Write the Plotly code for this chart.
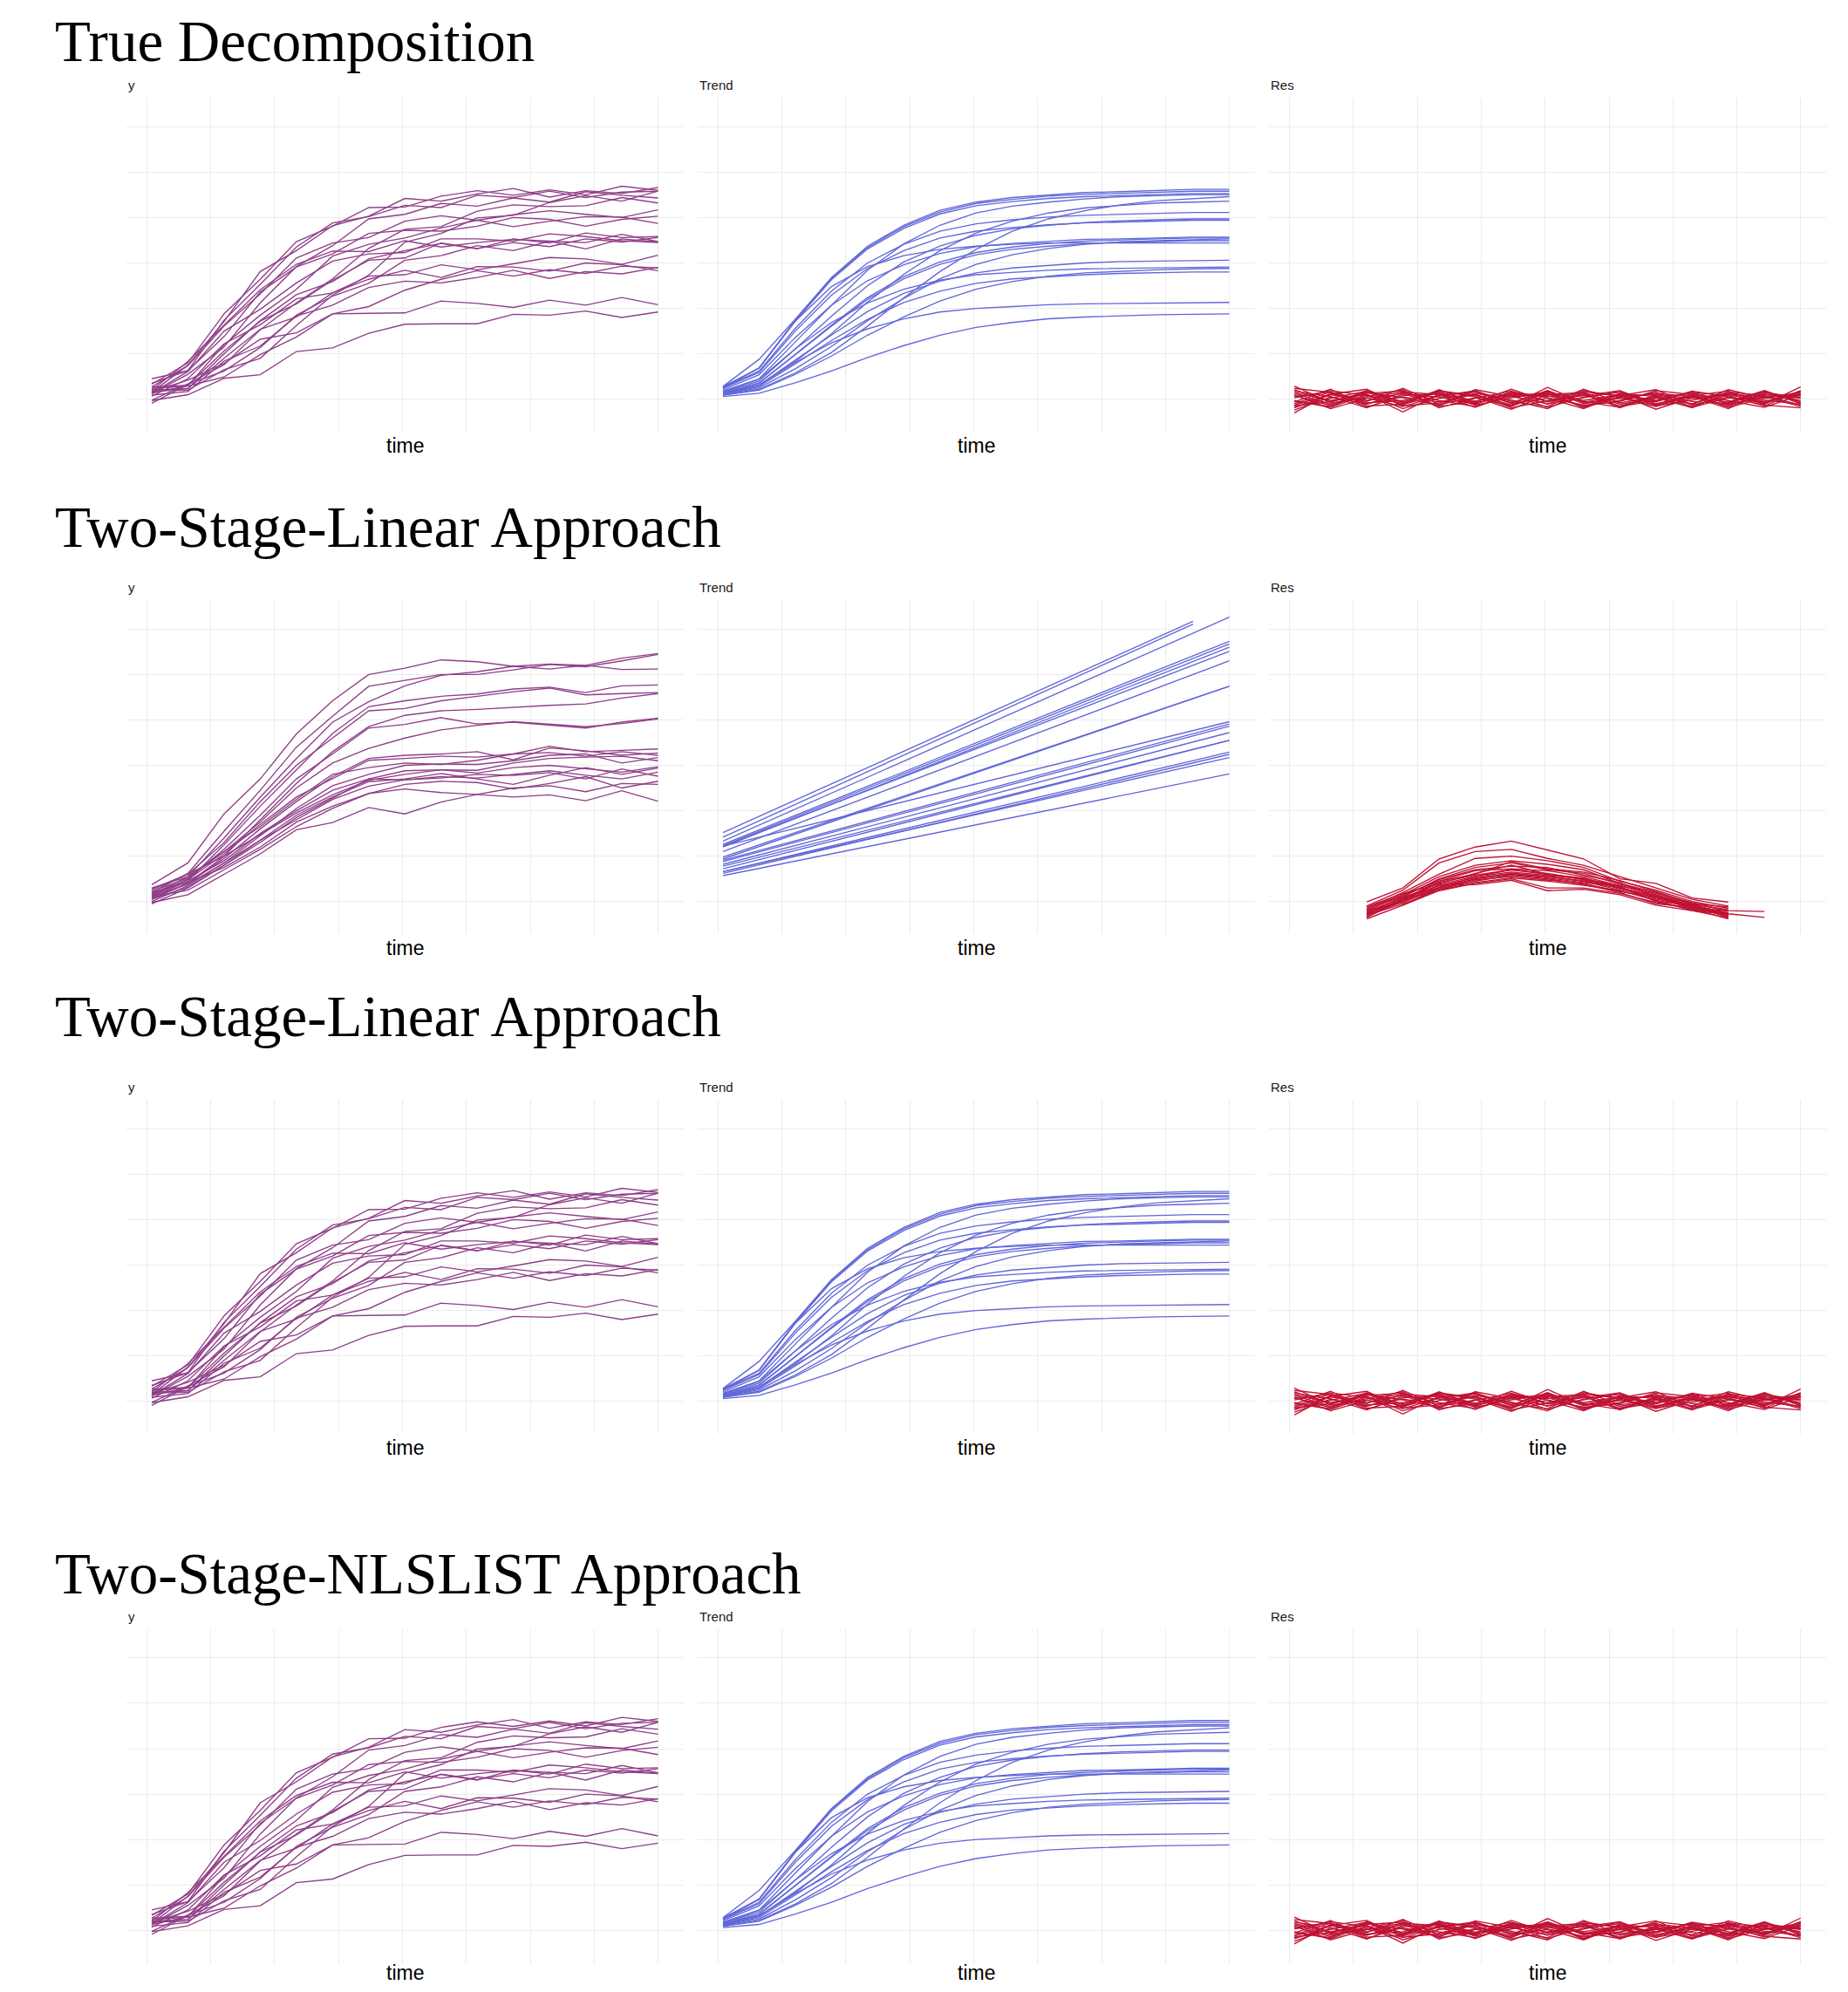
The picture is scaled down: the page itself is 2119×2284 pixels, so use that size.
import plotly.graph_objects as go

# ---------------- data ----------------
TIME = list(range(1, 16))
ROW_TITLES = ["True Decomposition", "Two-Stage-Linear Approach",
              "Two-Stage-Linear Approach", "Two-Stage-NLSLIST Approach"]
PANEL_LABELS = ["y", "Trend", "Res"]
X_LABEL = "time"

# observed series (rows 1, 3, 4)
Y_OBS = [
    [0.33, 0.80, 1.88, 2.64, 3.47, 3.81, 4.22, 4.23, 4.47, 4.59, 4.49, 4.61, 4.50, 4.69, 4.60],
    [0.15, 0.75, 1.71, 2.81, 3.27, 3.82, 4.03, 4.42, 4.36, 4.52, 4.64, 4.45, 4.59, 4.53, 4.66],
    [0.45, 0.63, 1.74, 2.53, 3.35, 3.88, 4.02, 4.27, 4.22, 4.49, 4.44, 4.58, 4.44, 4.56, 4.58],
    [0.12, 0.55, 1.15, 2.12, 2.92, 3.38, 3.97, 4.07, 4.31, 4.25, 4.43, 4.34, 4.57, 4.49, 4.43],
    [0.18, 0.20, 0.65, 0.90, 1.62, 2.29, 2.73, 3.46, 3.65, 3.99, 4.05, 4.33, 4.48, 4.36, 4.58],
    [-0.02, 0.34, 0.76, 1.53, 2.12, 2.65, 3.32, 3.74, 3.80, 4.14, 4.28, 4.24, 4.26, 4.44, 4.32],
    [0.27, 0.74, 1.61, 2.32, 3.11, 3.44, 3.56, 3.92, 4.04, 3.94, 4.06, 4.15, 4.07, 4.00, 4.17],
    [0.13, 0.30, 1.20, 1.85, 2.42, 3.15, 3.41, 3.55, 3.77, 3.94, 3.80, 3.92, 4.02, 4.01, 3.87],
    [0.35, 0.63, 1.38, 2.36, 2.91, 3.20, 3.65, 3.72, 3.70, 3.81, 4.00, 3.96, 3.81, 3.96, 4.03],
    [0.13, 0.61, 1.50, 1.98, 2.56, 3.04, 3.20, 3.23, 3.53, 3.53, 3.48, 3.64, 3.58, 3.49, 3.45],
    [0.20, 0.23, 1.00, 1.73, 2.30, 2.59, 3.09, 3.27, 3.43, 3.31, 3.53, 3.44, 3.66, 3.56, 3.58],
    [-0.09, 0.33, 0.62, 1.14, 1.85, 2.27, 2.55, 3.06, 3.16, 3.38, 3.27, 3.48, 3.45, 3.63, 3.47],
    [0.27, 0.31, 1.06, 1.72, 2.10, 2.62, 3.06, 3.11, 3.44, 3.32, 3.45, 3.36, 3.53, 3.46, 3.56],
    [0.20, 0.83, 1.63, 2.41, 2.97, 3.26, 3.25, 3.49, 3.35, 3.45, 3.52, 3.48, 3.31, 3.53, 3.46],
    [0.20, 0.24, 0.90, 1.54, 1.81, 2.34, 2.71, 2.74, 2.96, 2.85, 2.98, 3.12, 3.09, 2.97, 3.17],
    [0.07, 0.45, 1.22, 1.64, 2.21, 2.34, 2.64, 2.84, 2.68, 2.92, 2.91, 2.82, 3.00, 2.96, 2.83],
    [0.24, 0.29, 0.49, 0.98, 1.37, 1.88, 2.04, 2.40, 2.64, 2.83, 2.71, 2.85, 2.77, 2.93, 2.89],
    [0.09, 0.17, 0.84, 1.17, 1.83, 2.07, 2.46, 2.60, 2.56, 2.68, 2.84, 2.66, 2.81, 2.76, 2.90],
    [0.17, 0.42, 0.79, 1.32, 1.46, 1.88, 1.89, 1.90, 2.16, 2.11, 2.02, 2.18, 2.07, 2.24, 2.08],
    [-0.03, 0.10, 0.46, 0.54, 1.05, 1.13, 1.45, 1.65, 1.66, 1.66, 1.87, 1.85, 1.94, 1.80, 1.92],
]

# smooth trend (rows 1, 3, 4)
TREND_TRUE = [
    [0.28, 0.88, 1.76, 2.68, 3.37, 3.83, 4.16, 4.34, 4.44, 4.50, 4.55, 4.57, 4.60, 4.62, 4.62],
    [0.27, 0.69, 1.74, 2.66, 3.34, 3.80, 4.12, 4.31, 4.40, 4.47, 4.51, 4.53, 4.56, 4.58, 4.58],
    [0.27, 0.68, 1.72, 2.63, 3.31, 3.76, 4.08, 4.26, 4.35, 4.42, 4.46, 4.48, 4.51, 4.53, 4.53],
    [0.18, 0.45, 1.26, 2.07, 2.84, 3.42, 3.83, 4.10, 4.25, 4.34, 4.41, 4.46, 4.48, 4.50, 4.50],
    [0.09, 0.22, 0.58, 1.03, 1.61, 2.23, 2.81, 3.30, 3.70, 3.97, 4.15, 4.28, 4.37, 4.42, 4.46],
    [0.13, 0.31, 0.83, 1.44, 2.14, 2.75, 3.27, 3.66, 3.92, 4.10, 4.21, 4.27, 4.32, 4.34, 4.36],
    [0.25, 0.62, 1.56, 2.38, 3.00, 3.41, 3.70, 3.86, 3.95, 4.01, 4.05, 4.07, 4.09, 4.11, 4.11],
    [0.16, 0.40, 1.11, 1.83, 2.50, 3.02, 3.37, 3.61, 3.75, 3.83, 3.89, 3.93, 3.95, 3.97, 3.97],
    [0.24, 0.59, 1.50, 2.29, 2.88, 3.27, 3.55, 3.70, 3.78, 3.84, 3.88, 3.90, 3.92, 3.94, 3.94],
    [0.21, 0.54, 1.36, 2.07, 2.61, 2.96, 3.21, 3.36, 3.43, 3.48, 3.52, 3.53, 3.55, 3.57, 3.57],
    [0.14, 0.36, 0.99, 1.63, 2.24, 2.70, 3.02, 3.23, 3.35, 3.43, 3.48, 3.51, 3.53, 3.55, 3.55],
    [0.11, 0.25, 0.67, 1.16, 1.73, 2.22, 2.65, 2.97, 3.18, 3.32, 3.41, 3.46, 3.49, 3.51, 3.53],
    [0.14, 0.35, 0.98, 1.61, 2.20, 2.65, 2.97, 3.18, 3.30, 3.37, 3.42, 3.46, 3.47, 3.49, 3.49],
    [0.24, 0.69, 1.72, 2.48, 2.92, 3.16, 3.30, 3.37, 3.41, 3.44, 3.44, 3.44, 3.44, 3.44, 3.44],
    [0.12, 0.31, 0.86, 1.41, 1.93, 2.33, 2.60, 2.78, 2.89, 2.95, 3.00, 3.03, 3.04, 3.06, 3.06],
    [0.17, 0.44, 1.11, 1.69, 2.12, 2.42, 2.62, 2.74, 2.79, 2.84, 2.87, 2.88, 2.90, 2.91, 2.91],
    [0.09, 0.20, 0.55, 0.95, 1.41, 1.81, 2.16, 2.42, 2.59, 2.71, 2.78, 2.82, 2.85, 2.87, 2.88],
    [0.11, 0.28, 0.78, 1.29, 1.76, 2.13, 2.38, 2.55, 2.65, 2.70, 2.74, 2.77, 2.79, 2.80, 2.80],
    [0.13, 0.32, 0.81, 1.24, 1.55, 1.77, 1.92, 2.00, 2.04, 2.08, 2.10, 2.11, 2.12, 2.13, 2.13],
    [0.06, 0.13, 0.36, 0.62, 0.92, 1.18, 1.41, 1.58, 1.69, 1.77, 1.81, 1.84, 1.86, 1.87, 1.88],
]

# residuals (rows 1, 3, 4)
RES_TRUE = [
    [0.08, -0.14, 0.19, -0.06, 0.16, -0.04, 0.10, -0.18, 0.05, 0.15, -0.10, 0.07, -0.16, 0.12, -0.03],
    [-0.19, 0.10, -0.05, 0.24, -0.11, 0.03, -0.15, 0.18, -0.07, 0.08, 0.21, -0.13, 0.05, -0.08, 0.13],
    [0.29, -0.08, 0.03, -0.16, 0.07, 0.19, -0.10, 0.02, -0.21, 0.11, -0.03, 0.16, -0.11, 0.05, 0.08],
    [-0.10, 0.16, -0.18, 0.08, 0.13, -0.07, 0.22, -0.05, 0.10, -0.15, 0.03, -0.19, 0.15, -0.02, -0.11],
    [0.15, -0.03, 0.11, -0.21, 0.02, 0.10, -0.13, 0.26, -0.08, 0.03, -0.16, 0.08, 0.18, -0.10, 0.19],
    [-0.24, 0.05, -0.11, 0.15, -0.03, -0.16, 0.08, 0.13, -0.19, 0.06, 0.11, -0.05, -0.10, 0.16, -0.06],
    [0.03, 0.19, 0.08, -0.10, 0.18, 0.05, -0.22, 0.10, 0.15, -0.11, 0.02, 0.13, -0.03, -0.18, 0.10],
    [-0.05, -0.16, 0.15, 0.03, -0.13, 0.21, 0.06, -0.10, 0.03, 0.18, -0.15, -0.02, 0.11, 0.06, -0.16],
    [0.18, 0.06, -0.19, 0.11, 0.05, -0.11, 0.16, 0.03, -0.13, -0.05, 0.19, 0.10, -0.18, 0.03, 0.15],
    [-0.13, 0.11, 0.22, -0.15, -0.08, 0.13, -0.02, -0.21, 0.16, 0.08, -0.06, 0.18, 0.05, -0.13, -0.19],
    [0.10, -0.21, 0.02, 0.16, 0.10, -0.18, 0.11, 0.06, 0.13, -0.19, 0.08, -0.11, 0.21, 0.02, 0.05],
    [-0.30, 0.13, -0.08, -0.03, 0.19, 0.08, -0.16, 0.15, -0.03, 0.10, -0.22, 0.03, -0.06, 0.19, -0.10],
    [0.21, -0.06, 0.13, 0.18, -0.16, -0.05, 0.15, -0.11, 0.22, -0.08, 0.05, -0.16, 0.10, -0.05, 0.11],
    [-0.06, 0.22, -0.15, -0.11, 0.08, 0.16, -0.08, 0.19, -0.10, 0.02, 0.13, 0.06, -0.21, 0.15, 0.03],
    [0.13, -0.11, 0.06, 0.21, -0.19, 0.02, 0.18, -0.06, 0.11, -0.16, -0.03, 0.15, 0.08, -0.15, 0.18],
    [-0.16, 0.02, 0.18, -0.08, 0.15, -0.13, 0.03, 0.16, -0.18, 0.13, 0.06, -0.10, 0.16, 0.08, -0.13],
    [0.24, 0.15, -0.10, 0.05, -0.06, 0.11, -0.19, -0.03, 0.08, 0.19, -0.11, 0.05, -0.13, 0.10, 0.02],
    [-0.03, -0.18, 0.10, -0.28, 0.11, -0.10, 0.13, 0.08, -0.15, -0.03, 0.16, -0.18, 0.03, -0.06, 0.16],
    [0.06, 0.16, -0.03, 0.13, -0.15, 0.18, -0.05, -0.16, 0.19, 0.05, -0.13, 0.11, -0.08, 0.18, -0.08],
    [-0.15, -0.05, 0.16, -0.13, 0.21, -0.08, 0.06, 0.11, -0.05, -0.18, 0.10, 0.02, 0.13, -0.11, 0.27],
]

# observed series, row 2
Y_OBS_LIN = [
    [0.37, 0.85, 1.93, 2.70, 3.69, 4.42, 5.00, 5.14, 5.32, 5.28, 5.18, 5.23, 5.20, 5.36, 5.46],
    [0.20, 0.62, 1.55, 2.45, 3.40, 4.08, 4.74, 4.87, 5.00, 5.00, 5.10, 5.22, 5.17, 5.30, 5.44],
    [0.15, 0.55, 1.40, 2.30, 3.15, 3.95, 4.40, 4.75, 4.98, 5.06, 5.18, 5.12, 5.20, 5.11, 5.12],
    [0.10, 0.45, 1.25, 2.10, 2.90, 3.70, 4.29, 4.42, 4.52, 4.57, 4.68, 4.72, 4.60, 4.75, 4.77],
    [0.25, 0.60, 1.30, 2.20, 3.00, 3.60, 4.20, 4.25, 4.42, 4.52, 4.62, 4.70, 4.55, 4.58, 4.60],
    [0.05, 0.40, 1.00, 1.80, 2.60, 3.30, 3.85, 4.10, 4.20, 4.23, 4.28, 4.32, 4.35, 4.48, 4.58],
    [0.12, 0.50, 1.15, 1.90, 2.70, 3.25, 3.82, 3.90, 4.05, 3.91, 3.95, 3.88, 3.82, 3.95, 4.04],
    [0.30, 0.55, 1.10, 1.75, 2.50, 3.05, 3.37, 3.60, 3.78, 3.88, 3.96, 3.90, 3.85, 3.92, 4.02],
    [0.18, 0.48, 1.05, 1.70, 2.30, 2.70, 3.11, 3.15, 3.20, 3.18, 3.25, 3.42, 3.30, 3.33, 3.36],
    [0.08, 0.40, 0.95, 1.60, 2.20, 2.75, 3.15, 3.22, 3.25, 3.30, 3.12, 3.38, 3.32, 3.22, 3.27],
    [0.22, 0.52, 1.10, 1.65, 2.25, 2.80, 2.95, 3.05, 3.02, 3.11, 3.25, 3.28, 3.20, 3.30, 3.22],
    [0.00, 0.35, 0.85, 1.45, 2.05, 2.55, 2.80, 3.00, 3.03, 3.02, 3.10, 3.22, 3.25, 3.05, 3.17],
    [0.15, 0.45, 0.90, 1.50, 2.00, 2.45, 2.70, 2.88, 2.90, 2.89, 3.05, 3.15, 3.18, 3.20, 3.10],
    [0.28, 0.60, 1.00, 1.48, 1.95, 2.35, 2.67, 2.80, 2.90, 2.83, 2.95, 3.00, 2.93, 2.85, 2.97],
    [-0.05, 0.30, 0.80, 1.35, 1.90, 2.30, 2.64, 2.70, 2.82, 2.70, 2.58, 2.78, 2.95, 2.80, 2.94],
    [0.12, 0.38, 0.85, 1.35, 1.80, 2.25, 2.54, 2.68, 2.75, 2.72, 2.80, 2.88, 2.78, 2.70, 2.85],
    [0.05, 0.32, 0.80, 1.30, 1.85, 2.28, 2.70, 2.68, 2.72, 2.80, 2.78, 2.84, 2.70, 2.92, 2.76],
    [0.20, 0.42, 0.75, 1.20, 1.75, 2.10, 2.38, 2.58, 2.65, 2.62, 2.48, 2.60, 2.75, 2.50, 2.65],
    [0.10, 0.25, 0.70, 1.15, 1.65, 2.05, 2.38, 2.48, 2.40, 2.36, 2.50, 2.55, 2.42, 2.60, 2.58],
    [-0.02, 0.15, 0.60, 1.05, 1.58, 1.74, 2.07, 1.93, 2.19, 2.36, 2.30, 2.35, 2.22, 2.44, 2.21],
]

# linear trend, row 2 (value at first time, value and time at last point)
TREND_LIN_START = [1.52, 1.42, 1.33, 1.26, 1.23, 1.20, 1.22, 1.10, 0.98, 0.94,
                   1.22, 0.91, 0.88, 0.82, 0.78, 0.72, 0.66, 0.62, 0.66, 0.57]
TREND_LIN_END = [6.17, 6.11, 6.26, 5.73, 5.67, 5.60, 5.51, 5.30, 4.74, 4.74,
                 3.96, 3.91, 3.86, 3.72, 3.55, 3.55, 3.29, 3.24, 3.17, 2.81]
TREND_LIN_TEND = [14, 14, 15, 15, 15, 15, 15, 15, 15, 15,
                  15, 15, 15, 15, 15, 15, 15, 15, 15, 15]

# residuals, row 2 (11 consecutive time points starting at RES_LIN_T0)
RES_LIN_T0 = [3] * 18 + [4, 4]
RES_LIN = [
    [-0.01, 0.30, 0.94, 1.20, 1.33, 1.14, 0.94, 0.50, 0.40, 0.08, -0.01],
    [-0.10, 0.25, 0.85, 1.10, 1.15, 0.95, 0.80, 0.55, 0.30, 0.05, -0.10],
    [-0.15, 0.20, 0.60, 0.95, 1.00, 0.90, 0.75, 0.45, 0.25, 0.00, -0.15],
    [-0.20, 0.15, 0.55, 0.80, 0.90, 0.82, 0.70, 0.40, 0.20, -0.05, -0.18],
    [-0.25, 0.10, 0.50, 0.75, 0.85, 0.70, 0.62, 0.38, 0.18, -0.02, -0.22],
    [-0.18, 0.12, 0.48, 0.70, 0.78, 0.75, 0.58, 0.42, 0.10, -0.08, -0.25],
    [-0.30, 0.05, 0.45, 0.68, 0.72, 0.68, 0.55, 0.35, 0.15, -0.10, -0.28],
    [-0.22, 0.08, 0.40, 0.62, 0.80, 0.60, 0.52, 0.30, 0.12, -0.12, -0.30],
    [-0.28, 0.02, 0.42, 0.58, 0.70, 0.62, 0.48, 0.32, 0.05, -0.06, -0.32],
    [-0.12, 0.18, 0.38, 0.55, 0.65, 0.58, 0.50, 0.28, 0.08, -0.15, -0.20],
    [-0.33, 0.00, 0.35, 0.52, 0.62, 0.55, 0.45, 0.25, 0.02, -0.10, -0.35],
    [-0.25, 0.10, 0.30, 0.50, 0.60, 0.52, 0.42, 0.33, 0.00, -0.18, -0.26],
    [-0.20, -0.02, 0.32, 0.48, 0.55, 0.48, 0.40, 0.22, 0.10, -0.14, -0.30],
    [-0.35, 0.05, 0.28, 0.45, 0.58, 0.50, 0.38, 0.20, -0.05, -0.12, -0.33],
    [-0.30, -0.05, 0.25, 0.42, 0.52, 0.45, 0.36, 0.24, 0.03, -0.20, -0.28],
    [-0.38, -0.08, 0.24, 0.40, 0.50, 0.30, 0.30, 0.18, -0.02, -0.16, -0.38],
    [-0.15, 0.15, 0.45, 0.60, 0.88, 0.72, 0.65, 0.46, 0.22, -0.04, -0.12],
    [-0.27, 0.06, 0.36, 0.37, 0.47, 0.24, 0.27, 0.15, -0.08, -0.20, -0.36],
    [-0.08, 0.30, 0.55, 0.70, 0.60, 0.50, 0.35, 0.15, -0.05, -0.20, -0.22],
    [0.02, 0.25, 0.50, 0.62, 0.55, 0.45, 0.30, 0.12, -0.08, -0.27, -0.35],
]

# ---------------- style / layout ----------------
PAGE_W, PAGE_H = 2119, 2284
BODY_MARGIN = 8                      # default page margin around the plot div
W = PAGE_W - 2 * BODY_MARGIN
H = PAGE_H - 2 * BODY_MARGIN
COL_LEFT = [145.0, 800.0, 1455.2]    # page pixels
PANEL_W = 638.5
ROW_TOP = [112.3, 688.3, 1261.3, 1867.9]
PANEL_H = 382.7
TITLE_Y = [47.5, 604.0, 1164.5, 1804.2]
TITLE_X = 62.0
X_RANGE = [0.3, 15.7]
Y_RANGE = [-0.716, 6.633]
GRID_X = [0.862 + 1.768 * k for k in range(9)]
GRID_Y = [0, 1, 2, 3, 4, 5, 6]
COLORS = ["#842A7C", "#4C53D3", "#BC0629"]
OPACITY = [0.9, 0.88, 0.95]
GRID_COLOR = "#EBEBEB"
SANS = "Liberation Sans, Arial, sans-serif"
SERIF = "Liberation Serif, Times New Roman, serif"


def px(xp):
    return (xp - BODY_MARGIN) / W


def py(yp):
    return 1 - (yp - BODY_MARGIN) / H


def series_lines(times_list, values_list):
    xs, ys = [], []
    for t, v in zip(times_list, values_list):
        xs += list(t) + [None]
        ys += list(v) + [None]
    return xs, ys


def panel_data(r, c):
    if r == 1:
        if c == 0:
            return series_lines([TIME] * len(Y_OBS_LIN), Y_OBS_LIN)
        if c == 1:
            ts = [[TIME[0], te] for te in TREND_LIN_TEND]
            vs = [[a, b] for a, b in zip(TREND_LIN_START, TREND_LIN_END)]
            return series_lines(ts, vs)
        ts = [list(range(t0, t0 + len(v))) for t0, v in zip(RES_LIN_T0, RES_LIN)]
        return series_lines(ts, RES_LIN)
    src = [Y_OBS, TREND_TRUE, RES_TRUE][c]
    return series_lines([TIME] * len(src), src)


fig = go.Figure()
annotations = []
layout = {}
for r in range(4):
    for c in range(3):
        i = r * 3 + c + 1
        sfx = "" if i == 1 else str(i)
        xs, ys = panel_data(r, c)
        fig.add_trace(go.Scatter(
            x=xs, y=ys, mode="lines", xaxis="x" + sfx, yaxis="y" + sfx,
            line=dict(color=COLORS[c], width=1.35), opacity=OPACITY[c],
            hoverinfo="skip", showlegend=False))
        layout["xaxis" + sfx] = dict(
            domain=[px(COL_LEFT[c]), px(COL_LEFT[c] + PANEL_W)],
            range=X_RANGE, anchor="y" + sfx,
            tickmode="array", tickvals=GRID_X, showticklabels=False, ticks="",
            showgrid=True, gridcolor=GRID_COLOR, gridwidth=1.2,
            zeroline=False, showline=False, fixedrange=True)
        layout["yaxis" + sfx] = dict(
            domain=[py(ROW_TOP[r] + PANEL_H), py(ROW_TOP[r])],
            range=Y_RANGE, anchor="x" + sfx,
            tickmode="array", tickvals=GRID_Y, showticklabels=False, ticks="",
            showgrid=True, gridcolor=GRID_COLOR, gridwidth=1.2,
            zeroline=False, showline=False, fixedrange=True)
        annotations.append(dict(
            text=PANEL_LABELS[c], xref="paper", yref="paper",
            x=px(COL_LEFT[c]), y=py(ROW_TOP[r] - 14.8),
            xanchor="left", yanchor="middle", showarrow=False,
            font=dict(family=SANS, size=15, color="#1A1A1A")))
        if r < 3:
            t_y, t_anchor = py(ROW_TOP[r] + PANEL_H + 16.0), "middle"
        else:
            t_y, t_anchor = 0.0, "bottom"   # keep the last row's label inside the page
        annotations.append(dict(
            text=X_LABEL, xref="paper", yref="paper",
            x=px(COL_LEFT[c] + PANEL_W / 2), y=t_y,
            xanchor="center", yanchor=t_anchor, showarrow=False, borderpad=0,
            font=dict(family=SANS, size=23, color="#000000")))
    annotations.append(dict(
        text=ROW_TITLES[r], xref="paper", yref="paper",
        x=px(TITLE_X), y=py(TITLE_Y[r]), xanchor="left", yanchor="middle",
        showarrow=False, borderpad=0,
        font=dict(family=SERIF, size=67, color="#000000")))

fig.update_layout(**layout)
fig.update_layout(
    width=W, height=H, autosize=False,
    margin=dict(l=0, r=0, t=0, b=0, pad=0),
    paper_bgcolor="white", plot_bgcolor="white",
    annotations=annotations, showlegend=False)

fig.write_html("out.html", config={"displayModeBar": False})
